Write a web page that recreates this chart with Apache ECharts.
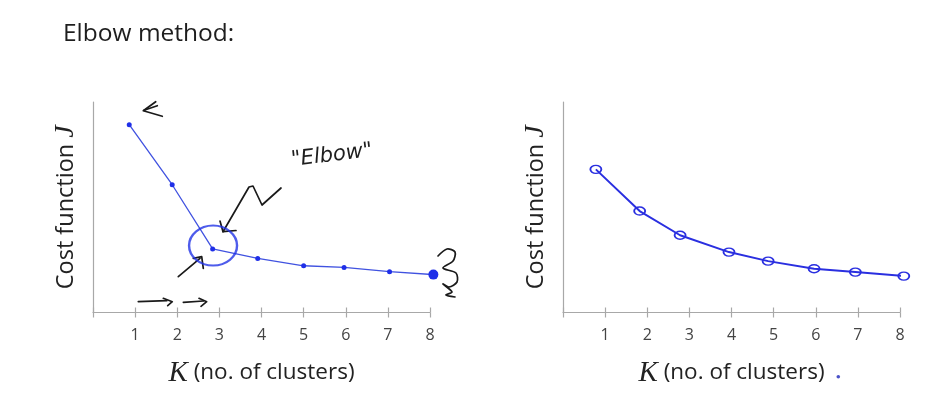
<!DOCTYPE html>
<html>
<head>
<meta charset="utf-8">
<script src="https://cdn.jsdelivr.net/npm/echarts@6/dist/echarts.min.js"></script>
<style>
html,body{margin:0;padding:0;background:#fff;}
#chart{width:936px;height:395px;}
</style>
</head>
<body>
<div id="chart"></div>
<script>
// ---- data ----
var titleText = 'Elbow method:';
var kLeft = [0.86, 1.88, 2.84, 3.91, 5.0, 5.96, 7.04, 8.08];
var jLeft = [8.92, 6.07, 3.02, 2.57, 2.22, 2.14, 1.94, 1.80];
var kRight = [0.78, 1.82, 2.78, 3.94, 4.87, 5.96, 6.94, 8.09];
var jRight = [6.8, 4.82, 3.67, 2.87, 2.44, 2.08, 1.92, 1.73];
var elbowK = [2.85];
var elbowJ = [3.18];
var tickLabels = ['', '1', '2', '3', '4', '5', '6', '7', '8'];
var yName = 'Cost function ';
var xName = '(no. of clusters)';
var elbowText = '"Elbow"';

function pairs(xs, ys) { return xs.map(function (x, i) { return [x, ys[i]]; }); }

var chart = echarts.init(document.getElementById('chart'));
var axisGray = '#a8a8a8';

function mainX(gridIndex) {
  return {
    gridIndex: gridIndex, type: 'value', min: 0, max: 8, interval: 1,
    axisLine: { show: true, onZero: false, lineStyle: { color: axisGray, width: 1.2 } },
    axisTick: { show: true, length: 5, lineStyle: { color: axisGray, width: 1.2 } },
    axisLabel: {
      show: true, margin: 15, color: '#444', fontSize: 16, fontFamily: 'Open Sans',
      formatter: function (v) { return tickLabels[Math.round(v)] || ''; }
    },
    splitLine: { show: false },
    name: '{k|K} ' + xName, nameLocation: 'middle', nameGap: 46,
    nameTextStyle: {
      color: '#222', fontSize: 22.5, fontFamily: 'Open Sans',
      rich: { k: { fontFamily: 'Liberation Serif', fontStyle: 'italic', fontSize: 29, color: '#222' } }
    }
  };
}
function innerX(gridIndex) {
  return {
    gridIndex: gridIndex, type: 'value', min: 0, max: 8, interval: 1, position: 'bottom',
    axisLine: { show: false },
    axisTick: { show: true, inside: true, length: 5, lineStyle: { color: axisGray, width: 1.2 } },
    axisLabel: { show: false }, splitLine: { show: false }
  };
}
function yAx(gridIndex) {
  return {
    gridIndex: gridIndex, type: 'value', min: 0, max: 10,
    axisLine: { show: true, lineStyle: { color: axisGray, width: 1.2 } },
    axisTick: { show: false }, axisLabel: { show: false }, splitLine: { show: false },
    name: yName + '{j|J}', nameLocation: 'middle', nameGap: 13, nameRotate: 90,
    nameTextStyle: {
      color: '#222', fontSize: 23.5, fontFamily: 'Open Sans',
      rich: { j: { fontFamily: 'Liberation Serif', fontStyle: 'italic', fontSize: 28, color: '#222' } }
    }
  };
}

var blackLine = { stroke: '#1a1a1a', lineWidth: 1.7, fill: null, lineCap: 'round', lineJoin: 'round' };
function pl(points, smooth) {
  return { type: 'polyline', shape: { points: points, smooth: smooth || 0 }, style: blackLine, silent: true };
}

var option = {
  backgroundColor: '#fff',
  animation: false,
  title: {
    text: titleText, left: 58, top: 17,
    textStyle: { fontFamily: 'Open Sans', fontWeight: 'normal', fontSize: 24.5, color: '#1e1e1e' }
  },
  grid: [
    { left: 93, top: 102, width: 337, height: 210.5 },
    { left: 563, top: 102, width: 337, height: 210.5 }
  ],
  xAxis: [mainX(0), mainX(1), innerX(0), innerX(1)],
  yAxis: [yAx(0), yAx(1)],
  series: [
    {
      type: 'line', xAxisIndex: 0, yAxisIndex: 0, clip: false,
      data: pairs(kLeft, jLeft),
      lineStyle: { color: '#4052e0', width: 1.3 },
      symbol: 'circle',
      symbolSize: function (v, p) { return p.dataIndex === kLeft.length - 1 ? 10 : 5; },
      itemStyle: { color: '#1f2fe8' }
    },
    {
      type: 'scatter', xAxisIndex: 0, yAxisIndex: 0, clip: false,
      data: pairs(elbowK, elbowJ),
      symbol: 'circle', symbolSize: [48, 40],
      itemStyle: { color: 'rgba(0,0,0,0)', borderColor: '#2233e6', borderWidth: 2.2 },
      z: 5
    },
    {
      type: 'line', xAxisIndex: 1, yAxisIndex: 1, clip: false,
      data: pairs(kRight, jRight),
      lineStyle: { color: '#2a2fe0', width: 2 },
      symbol: 'circle', symbolSize: [11, 8],
      itemStyle: { color: 'rgba(0,0,0,0)', borderColor: '#2a2fe0', borderWidth: 1.6 }
    }
  ],
  graphic: [
    // arrow near first point
    pl([[155.7, 101.7], [143.3, 110.7], [162.3, 116.3]]),
    pl([[144, 110.3], [157.3, 105.7]]),
    // squiggle pointing into the elbow
    pl([[281, 188], [262, 205], [253, 186], [249, 187], [223, 231.7]]),
    pl([[220, 221], [223, 231.7], [236, 230.5]]),
    // lower-left arrow
    pl([[178.3, 276.7], [200, 258.3]]),
    pl([[193.3, 258.3], [201.7, 256.7], [203.3, 268.3]]),
    // arrows along the bottom
    pl([[138.3, 301.7], [166.7, 300.7]]),
    pl([[163.3, 298.3], [172.3, 301.7], [167.7, 305.7]]),
    pl([[183.3, 302.3], [203.3, 301]]),
    pl([[199, 298.3], [206.7, 301.7], [201, 306.3]]),
    // squiggle right of the last point
    pl([[438, 256], [447, 249], [455, 252], [453, 261], [443, 268], [456, 273], [457, 282], [449, 287], [443, 284], [452, 292], [446, 295], [455, 297]], 0.3),
    // "Elbow" label
    {
      type: 'text', x: 290, y: 150, rotation: 0.12, silent: true,
      style: { text: elbowText, fill: '#1e1e1e', font: 'italic 21px "DejaVu Sans"', letterSpacing: 3 }
    },
    // small dot next to right axis name
    { type: 'circle', shape: { cx: 838.3, cy: 376.7, r: 1.8 }, style: { fill: '#4a52c8' }, silent: true }
  ]
};
chart.setOption(option);
</script>
</body>
</html>
